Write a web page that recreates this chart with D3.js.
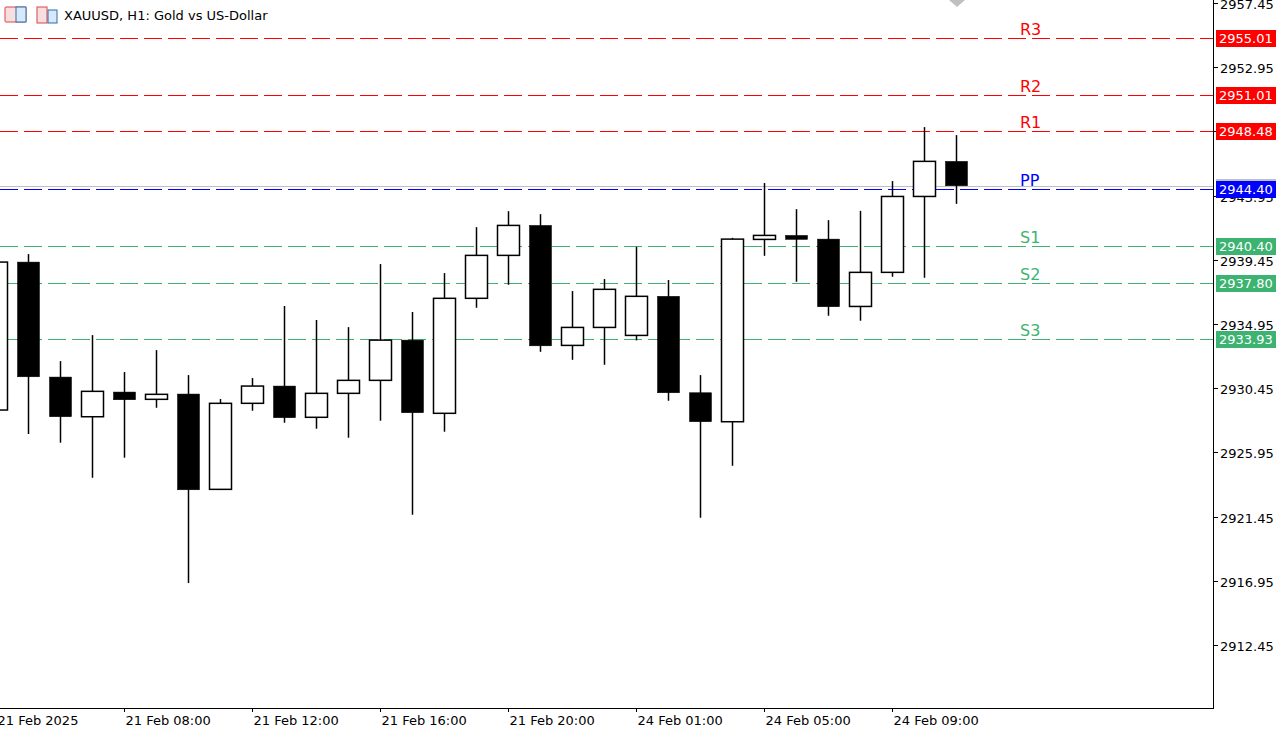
<!DOCTYPE html>
<html>
<head>
<meta charset="utf-8">
<script src="https://cdn.jsdelivr.net/npm/d3@7"></script>
<style>
  body { margin: 0; background: #fff; }
  svg text { font-family: "DejaVu Sans", Tahoma, sans-serif; }
</style>
</head>
<body>
<svg id="chart" width="1285" height="730"></svg>
<script>
// hourly bars, index 0 is the partly hidden 21 Feb 04:00 bar
var opens  = [2928.92,2939.29,2931.23,2928.45,2930.18,2929.67,2930.04,2923.36,2929.39,2930.60,2928.41,2930.09,2931.00,2933.82,2928.69,2936.75,2939.76,2941.86,2933.45,2934.71,2934.15,2936.89,2930.13,2928.10,2940.88,2941.16,2940.90,2936.18,2938.57,2943.89,2946.35];
var highs  = [2939.78,2939.85,2932.35,2934.17,2931.58,2933.12,2931.37,2929.69,2931.16,2936.21,2935.23,2934.73,2939.15,2935.79,2938.52,2941.74,2942.86,2942.65,2937.26,2938.10,2940.36,2938.03,2931.37,2940.99,2944.83,2943.00,2942.23,2942.88,2944.97,2948.75,2948.19];
var lows   = [2928.57,2927.24,2926.63,2924.17,2925.58,2929.08,2916.79,2923.31,2928.87,2928.03,2927.61,2926.98,2928.17,2921.58,2927.40,2936.09,2937.70,2933.00,2932.44,2932.09,2933.80,2929.57,2921.37,2925.01,2939.73,2937.91,2935.53,2935.18,2938.26,2938.19,2943.37];
var closes = [2939.29,2931.25,2928.45,2930.23,2929.64,2930.02,2923.33,2929.39,2930.60,2928.38,2930.09,2931.00,2933.82,2928.73,2936.75,2939.76,2941.86,2933.42,2934.71,2937.38,2936.89,2930.13,2928.10,2940.90,2941.16,2940.88,2936.16,2938.57,2943.89,2946.35,2944.64];

var timeTickIdx = [0, 4, 8, 12, 16, 20, 24, 28];
var timeTickLabels = ["21 Feb 2025","21 Feb 08:00","21 Feb 12:00","21 Feb 16:00","21 Feb 20:00","24 Feb 01:00","24 Feb 05:00","24 Feb 09:00"];
var priceTicks = [2957.45,2952.95,2948.45,2943.95,2939.45,2934.95,2930.45,2925.95,2921.45,2916.95,2912.45];

var levelNames  = ["R3","R2","R1","PP","S1","S2","S3"];
var levelValues = [2955.01,2951.01,2948.48,2944.40,2940.40,2937.80,2933.93];
var levelColors = ["#ff0000","#ff0000","#ff0000","#0000ff","#3cb371","#3cb371","#3cb371"];

var svg = d3.select("#chart");
var axisX = 1213, axisY = 708;

var x = d3.scaleLinear().domain([0, 30]).range([-4, 956]);
var y = d3.scaleLinear().domain([2912.45, 2957.45]).range([645, 3]);

// pivot lines
levelValues.forEach(function(v, i) {
  var yy = Math.round(y(v)) + 0.5;
  svg.append("line").attr("x1", 0).attr("x2", axisX).attr("y1", yy).attr("y2", yy)
    .attr("stroke", levelColors[i]).attr("stroke-width", 1).attr("stroke-dasharray", "18,6");
  svg.append("text").attr("x", 1020).attr("y", yy - 4).text(levelNames[i])
    .attr("fill", levelColors[i]).attr("font-size", 16);
});

// current price line
var last = closes[closes.length - 1];
svg.append("line").attr("x1", 0).attr("x2", axisX).attr("y1", Math.round(y(last)) + 0.5).attr("y2", Math.round(y(last)) + 0.5)
  .attr("stroke", "#c0c0c0");

// candles
var bars = svg.append("g");
opens.forEach(function(o, i) {
  var c = closes[i], cx = Math.round(x(i)) + 0.5;
  var up = c >= o;
  bars.append("line").attr("x1", cx).attr("x2", cx).attr("y1", y(highs[i])).attr("y2", y(lows[i]))
    .attr("stroke", "#000").attr("stroke-width", 1.5);
  var top = y(Math.max(o, c)), bot = y(Math.min(o, c));
  bars.append("rect").attr("x", cx - 11).attr("y", top).attr("width", 22).attr("height", Math.max(bot - top, 1))
    .attr("fill", up ? "#fff" : "#000").attr("stroke", "#000").attr("stroke-width", up ? 1.5 : 0.5);
});

// axes
svg.append("line").attr("x1", axisX + 0.5).attr("x2", axisX + 0.5).attr("y1", 0).attr("y2", axisY).attr("stroke", "#000");
svg.append("line").attr("x1", 0).attr("x2", axisX + 1).attr("y1", axisY + 0.5).attr("y2", axisY + 0.5).attr("stroke", "#000");

priceTicks.forEach(function(p) {
  var yy = Math.round(y(p)) + 0.5;
  svg.append("line").attr("x1", axisX).attr("x2", axisX + 5).attr("y1", yy).attr("y2", yy).attr("stroke", "#000");
  svg.append("text").attr("x", axisX + 7).attr("y", yy + 5).text(p.toFixed(2)).attr("font-size", 13).attr("fill", "#000");
});

timeTickIdx.forEach(function(idx, i) {
  var xx = Math.round(x(idx)) + 0.5;
  svg.append("line").attr("x1", xx).attr("x2", xx).attr("y1", axisY).attr("y2", axisY + 4).attr("stroke", "#000");
  svg.append("text").attr("x", xx + 1).attr("y", axisY + 17).text(timeTickLabels[i]).attr("font-size", 13).attr("fill", "#000");
});

// gray box above current price label and arrow marker at top
svg.append("rect").attr("x", axisX + 3).attr("y", Math.round(y(last)) - 7).attr("width", 60).attr("height", 5).attr("fill", "#c0c0c0");
svg.append("path").attr("d", "M949,0 L965,0 L957,7 Z").attr("fill", "#c0c0c0");

// price labels for the levels
levelValues.forEach(function(v, i) {
  var yy = Math.round(y(v));
  svg.append("rect").attr("x", axisX + 3).attr("y", yy - 8).attr("width", 60).attr("height", 17).attr("fill", levelColors[i]);
  svg.append("text").attr("x", axisX + 6).attr("y", yy + 5).text(v.toFixed(2)).attr("font-size", 13).attr("fill", "#fff");
});

// title
var t = svg.append("g");
t.append("rect").attr("x", 5).attr("y", 7).attr("width", 21).attr("height", 15).attr("fill", "#f8dede").attr("stroke", "#d44").attr("rx", 1);
t.append("rect").attr("x", 16).attr("y", 7).attr("width", 10).attr("height", 15).attr("fill", "#d8e8f8").attr("stroke", "#2b6cb0");
t.append("rect").attr("x", 37).attr("y", 7).attr("width", 10).attr("height", 16).attr("fill", "#f8dede").attr("stroke", "#d44");
t.append("rect").attr("x", 48).attr("y", 10).attr("width", 9).attr("height", 13).attr("fill", "#d8e8f8").attr("stroke", "#2b6cb0");
svg.append("text").attr("x", 64).attr("y", 20).text("XAUUSD, H1:  Gold vs US-Dollar").attr("font-size", 13).attr("fill", "#000");
</script>
</body>
</html>
